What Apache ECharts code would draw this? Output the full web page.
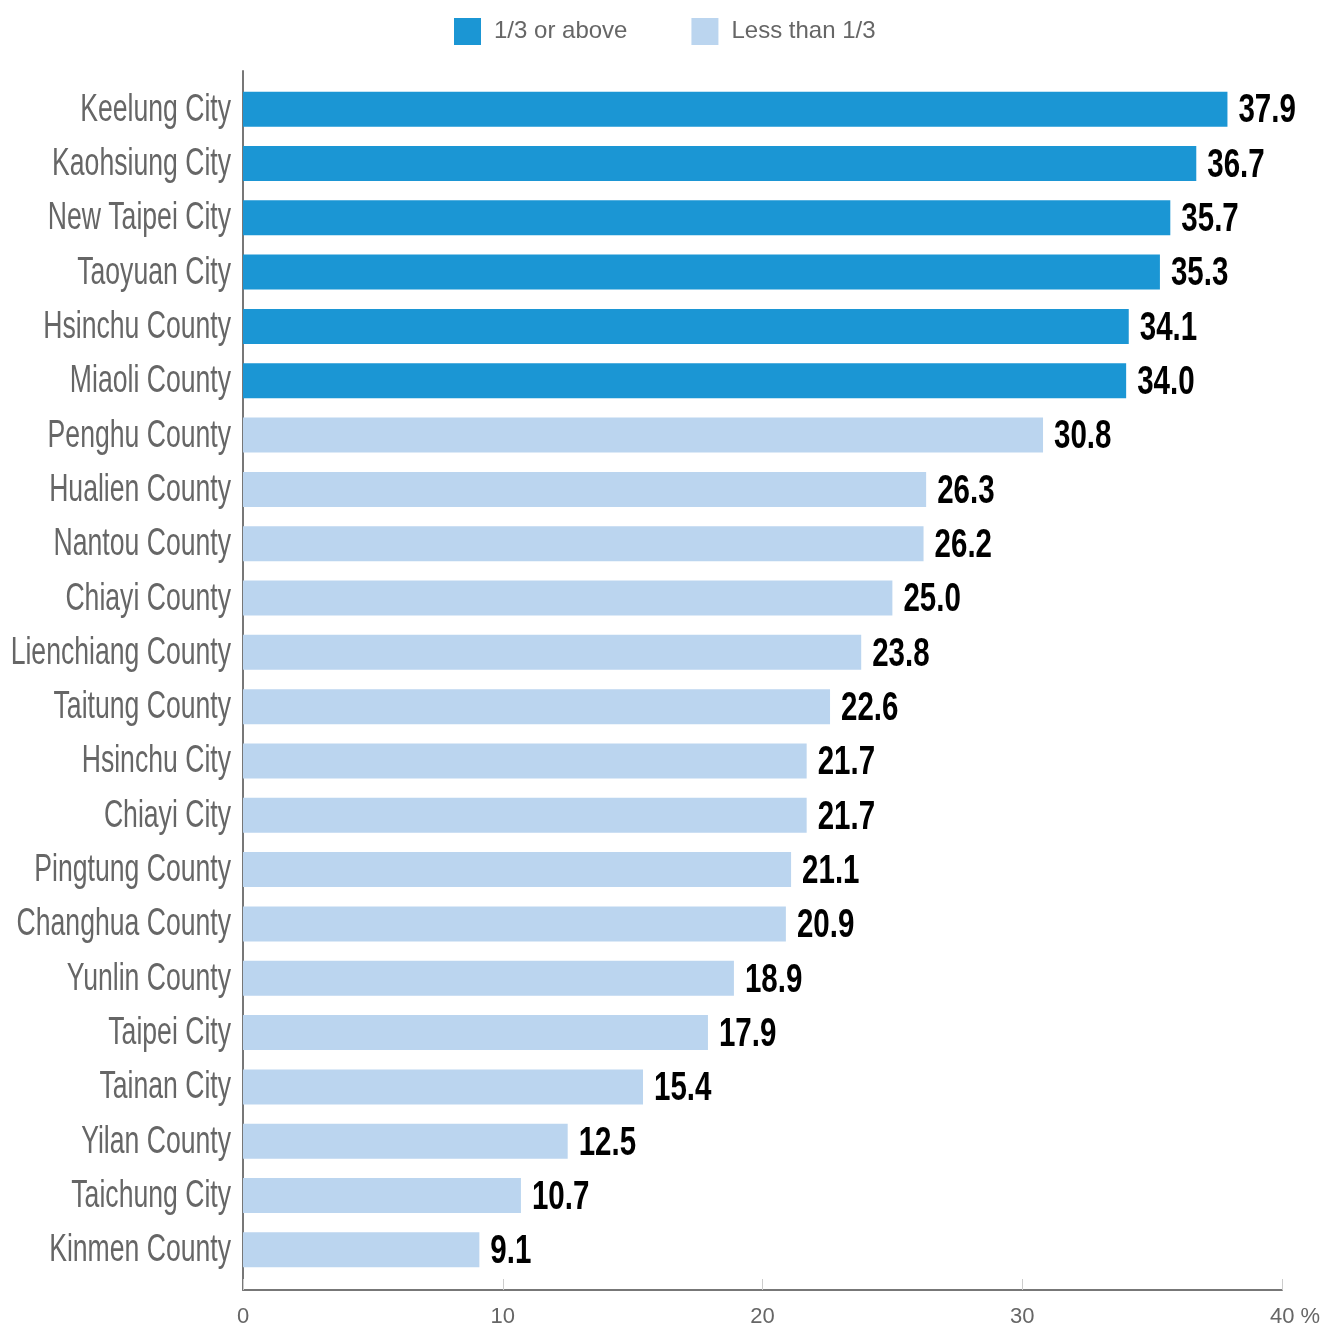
<!DOCTYPE html>
<html>
<head>
  <meta charset="utf-8" />
  <title>Chart</title>
  <script src="https://cdn.jsdelivr.net/npm/echarts@6/dist/echarts.min.js"></script>
  <style>
    html, body { margin: 0; padding: 0; background: #fff; }
    #main { width: 1325px; height: 1326px; }
  </style>
</head>
<body>
  <div id="main"></div>
  <script>
    // 数据
    var categories = ["Keelung City", "Kaohsiung City", "New Taipei City", "Taoyuan City", "Hsinchu County",
      "Miaoli County", "Penghu County", "Hualien County", "Nantou County", "Chiayi County",
      "Lienchiang County", "Taitung County", "Hsinchu City", "Chiayi City", "Pingtung County",
      "Changhua County", "Yunlin County", "Taipei City", "Tainan City", "Yilan County",
      "Taichung City", "Kinmen County"];
    var aboveValues = [37.9, 36.7, 35.7, 35.3, 34.1, 34.0, '-', '-', '-', '-', '-', '-', '-', '-', '-', '-', '-', '-', '-', '-', '-', '-'];
    var belowValues = ['-', '-', '-', '-', '-', '-', 30.8, 26.3, 26.2, 25.0, 23.8, 22.6, 21.7, 21.7, 21.1, 20.9, 18.9, 17.9, 15.4, 12.5, 10.7, 9.1];
    var seriesNames = ["1/3 or above", "Less than 1/3"];
    var xTicks = [0, 10, 20, 30, 40];

    var sans = "'Liberation Sans', Arial, sans-serif";

    // 数值标签数据 [value, index]
    var labelData = [];
    for (var i = 0; i < categories.length; i++) {
      var v = aboveValues[i] !== '-' ? aboveValues[i] : belowValues[i];
      labelData.push([v, i]);
    }
    var catData = categories.map(function (c, i) { return [0, i]; });

    var myChart = echarts.init(document.getElementById("main"));
    var option = {
      animation: false,
      legend: {
        top: 13,
        left: 449,
        itemWidth: 27,
        itemHeight: 27,
        itemGap: 64,
        icon: 'rect',
        textStyle: { color: '#666', fontSize: 24, fontFamily: sans, padding: [0, 0, 0, 8] },
        data: seriesNames
      },
      grid: [
        // 柱子区域
        { left: 243, right: 43, top: 82, bottom: 49, outerBoundsMode: 'none', containLabel: false },
        // 坐标轴区域
        { left: 243, right: 43, top: 71, bottom: 36, outerBoundsMode: 'none', containLabel: false }
      ],
      xAxis: [{
        gridIndex: 0,
        type: 'value',
        min: 0,
        max: 40,
        interval: 10,
        show: false
      }, {
        gridIndex: 1,
        type: 'value',
        min: xTicks[0],
        max: xTicks[xTicks.length - 1],
        interval: 10,
        axisLine: { show: true, lineStyle: { color: '#777', width: 2 } },
        axisTick: { show: true, inside: true, length: 11, lineStyle: { color: '#ccc', width: 1 } },
        splitLine: { show: false },
        axisLabel: {
          color: '#666',
          fontSize: 22,
          margin: 16,
          fontFamily: sans,
          formatter: function (v) {
            return v === 40 ? '{last|40 %}' : String(v);
          },
          rich: {
            last: { color: '#666', fontSize: 22, padding: [0, 0, 0, 26], fontFamily: sans }
          }
        }
      }],
      yAxis: [{
        gridIndex: 0,
        type: 'category',
        inverse: true,
        data: categories,
        axisLine: { show: false },
        axisTick: { show: false },
        axisLabel: { show: false }
      }, {
        gridIndex: 1,
        type: 'value',
        axisLine: { show: true, lineStyle: { color: '#777', width: 2 } },
        axisTick: { show: false },
        axisLabel: { show: false },
        splitLine: { show: false }
      }],
      series: [{
        name: seriesNames[0],
        type: 'bar',
        stack: 'all',
        barWidth: 35,
        xAxisIndex: 0,
        yAxisIndex: 0,
        itemStyle: { color: '#1b96d4' },
        data: aboveValues
      }, {
        name: seriesNames[1],
        type: 'bar',
        stack: 'all',
        barWidth: 35,
        xAxisIndex: 0,
        yAxisIndex: 0,
        itemStyle: { color: '#bbd5ef' },
        data: belowValues
      }, {
        // 类目标签（窄体）
        type: 'custom',
        xAxisIndex: 0,
        yAxisIndex: 0,
        silent: true,
        clip: false,
        data: catData,
        renderItem: function (params, api) {
          var pt = api.coord([0, api.value(1)]);
          return {
            type: 'text',
            x: pt[0] - 12,
            y: pt[1] + 1,
            scaleX: 0.70,
            style: {
              text: categories[params.dataIndex],
              font: '38px ' + sans,
              fill: '#666',
              align: 'right',
              verticalAlign: 'middle'
            }
          };
        }
      }, {
        // 数值标签（粗窄体）
        type: 'custom',
        xAxisIndex: 0,
        yAxisIndex: 0,
        silent: true,
        clip: false,
        data: labelData,
        renderItem: function (params, api) {
          var pt = api.coord([api.value(0), api.value(1)]);
          return {
            type: 'text',
            x: pt[0] + 11,
            y: pt[1] + 2,
            scaleX: 0.72,
            style: {
              text: Number(api.value(0)).toFixed(1),
              font: 'bold 41px ' + sans,
              fill: '#000',
              align: 'left',
              verticalAlign: 'middle'
            }
          };
        }
      }]
    };
    myChart.setOption(option);
  </script>
</body>
</html>
